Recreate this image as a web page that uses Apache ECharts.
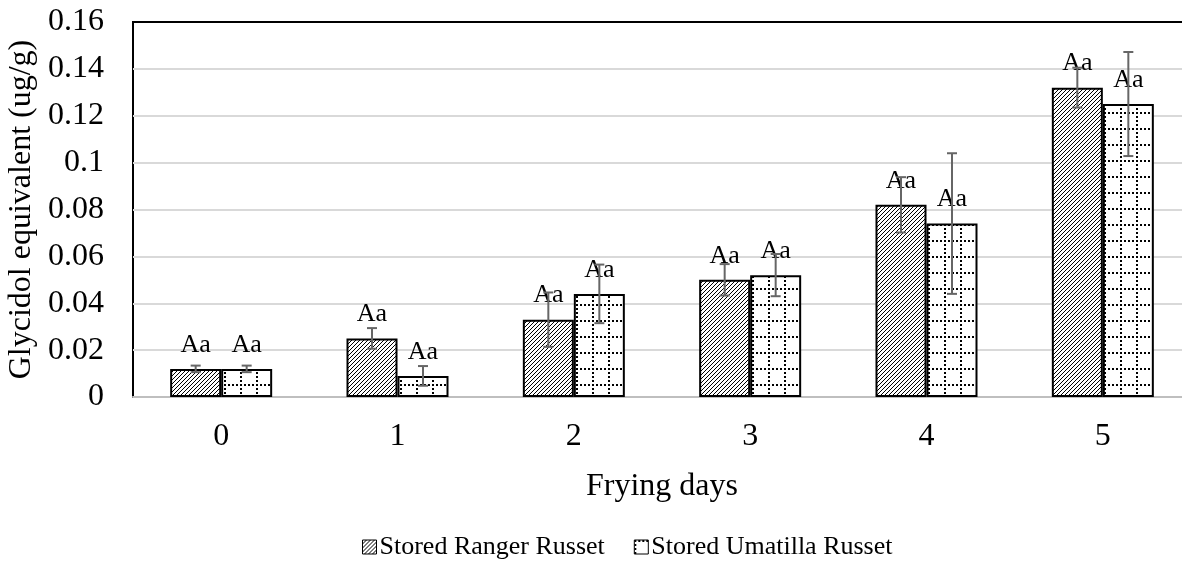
<!DOCTYPE html>
<html>
<head>
<meta charset="utf-8">
<script src="https://cdn.jsdelivr.net/npm/echarts@6/dist/echarts.min.js"></script>
<style>
html,body{margin:0;padding:0;background:#fff;}
#chart{width:1182px;height:573px;}
</style>
</head>
<body>
<div id="chart"></div>
<script>
const categories = ['0', '1', '2', '3', '4', '5'];
const rangerValues = [0.012, 0.025, 0.033, 0.050, 0.082, 0.132];
const rangerErrors = [0.0014, 0.0044, 0.0116, 0.0067, 0.0118, 0.0085];
const rangerLetters = ['Aa', 'Aa', 'Aa', 'Aa', 'Aa', 'Aa'];
const umatillaValues = [0.012, 0.009, 0.044, 0.052, 0.074, 0.125];
const umatillaErrors = [0.0014, 0.0042, 0.0125, 0.0090, 0.030, 0.0222];
const umatillaLetters = ['Aa', 'Aa', 'Aa', 'Aa', 'Aa', 'Aa'];
const seriesNames = ['Stored Ranger Russet', 'Stored Umatilla Russet'];
const yTicks = { min: 0, max: 0.16, interval: 0.02 };

const FONT = '"Liberation Serif", "Times New Roman", serif';
const BAR_W = 51;

function hatchPattern() {
  const c = document.createElement('canvas');
  c.width = 4; c.height = 4;
  const ctx = c.getContext('2d');
  ctx.fillStyle = '#fff';
  ctx.fillRect(0, 0, 4, 4);
  ctx.fillStyle = '#000';
  for (let i = 0; i < 4; i++) {
    ctx.fillRect(i, 3 - i, 1, 1);
  }
  return c;
}
function dotGridPattern() {
  const c = document.createElement('canvas');
  c.width = 16; c.height = 16;
  const ctx = c.getContext('2d');
  ctx.fillStyle = '#fff';
  ctx.fillRect(0, 0, 16, 16);
  ctx.fillStyle = '#000';
  for (let i = 0; i < 16; i += 4) {
    ctx.fillRect(i, 0, 2, 2);
    ctx.fillRect(0, i, 2, 2);
  }
  return c;
}

const hatch = { image: hatchPattern(), repeat: 'repeat' };
const dots = { image: dotGridPattern(), repeat: 'repeat' };

function errorSeries(vals, errs, offset) {
  return {
    type: 'custom',
    silent: true,
    z: 5,
    data: categories.map((c, i) => [i, vals[i], errs[i]]),
    renderItem: function (params, api) {
      const i = api.value(0), v = api.value(1), e = api.value(2);
      const hi = api.coord([i, v + e]);
      const lo = api.coord([i, v - e]);
      const x = hi[0] + offset;
      const cap = 5;
      const style = { stroke: '#666', lineWidth: 2 };
      return {
        type: 'group',
        children: [
          { type: 'line', shape: { x1: x, y1: hi[1], x2: x, y2: lo[1] }, style: style },
          { type: 'line', shape: { x1: x - cap, y1: hi[1], x2: x + cap, y2: hi[1] }, style: style },
          { type: 'line', shape: { x1: x - cap, y1: lo[1], x2: x + cap, y2: lo[1] }, style: style }
        ]
      };
    }
  };
}

function barLabel(letters) {
  return {
    show: true,
    position: 'top',
    distance: 11,
    formatter: p => letters[p.dataIndex],
    fontFamily: FONT,
    fontSize: 26,
    color: '#000'
  };
}

const chart = echarts.init(document.getElementById('chart'));
chart.setOption({
  animation: false,
  backgroundColor: '#fff',
  textStyle: { fontFamily: FONT },
  grid: {
    left: 133, top: 22, width: 1058, bottom: 176,
    outerBoundsMode: 'none',
    containLabel: false,
    show: true, borderColor: '#000', borderWidth: 2, backgroundColor: 'transparent'
  },
  legend: {
    data: seriesNames,
    top: 529,
    left: 357,
    itemWidth: 14,
    itemHeight: 14,
    itemGap: 29,
    icon: 'rect',
    textStyle: { fontFamily: FONT, fontSize: 26, color: '#000', padding: [0, 0, 0, -2] },
    itemStyle: { borderColor: '#000', borderWidth: 1 }
  },
  xAxis: {
    type: 'category',
    data: categories,
    name: 'Frying days',
    nameLocation: 'middle',
    nameGap: 74,
    nameTextStyle: { fontFamily: FONT, fontSize: 32, color: '#000' },
    axisLine: { show: true, lineStyle: { color: '#bfbfbf', width: 2 } },
    axisTick: { show: false },
    axisLabel: { fontFamily: FONT, fontSize: 32, color: '#000', margin: 24 }
  },
  yAxis: {
    type: 'value',
    min: yTicks.min,
    max: yTicks.max,
    interval: yTicks.interval,
    name: 'Glycidol equivalent (ug/g)',
    nameLocation: 'middle',
    nameGap: 85,
    nameTextStyle: { fontFamily: FONT, fontSize: 32, color: '#000' },
    axisLine: { show: false },
    axisTick: { show: false },
    axisLabel: {
      fontFamily: FONT, fontSize: 32, color: '#000', margin: 29,
      formatter: v => String(parseFloat(v.toFixed(2)))
    },
    splitLine: { show: true, showMaxLine: false, lineStyle: { color: '#d9d9d9', width: 2 } }
  },
  series: [
    {
      name: seriesNames[0],
      type: 'bar',
      data: rangerValues,
      barWidth: BAR_W,
      barGap: '0%',
      itemStyle: { color: hatch, borderColor: '#000', borderWidth: 2 },
      label: barLabel(rangerLetters)
    },
    {
      name: seriesNames[1],
      type: 'bar',
      data: umatillaValues,
      barWidth: BAR_W,
      barGap: '0%',
      itemStyle: { color: dots, borderColor: '#000', borderWidth: 2 },
      label: barLabel(umatillaLetters)
    },
    errorSeries(rangerValues, rangerErrors, -BAR_W / 2),
    errorSeries(umatillaValues, umatillaErrors, BAR_W / 2)
  ]
});
</script>
</body>
</html>
